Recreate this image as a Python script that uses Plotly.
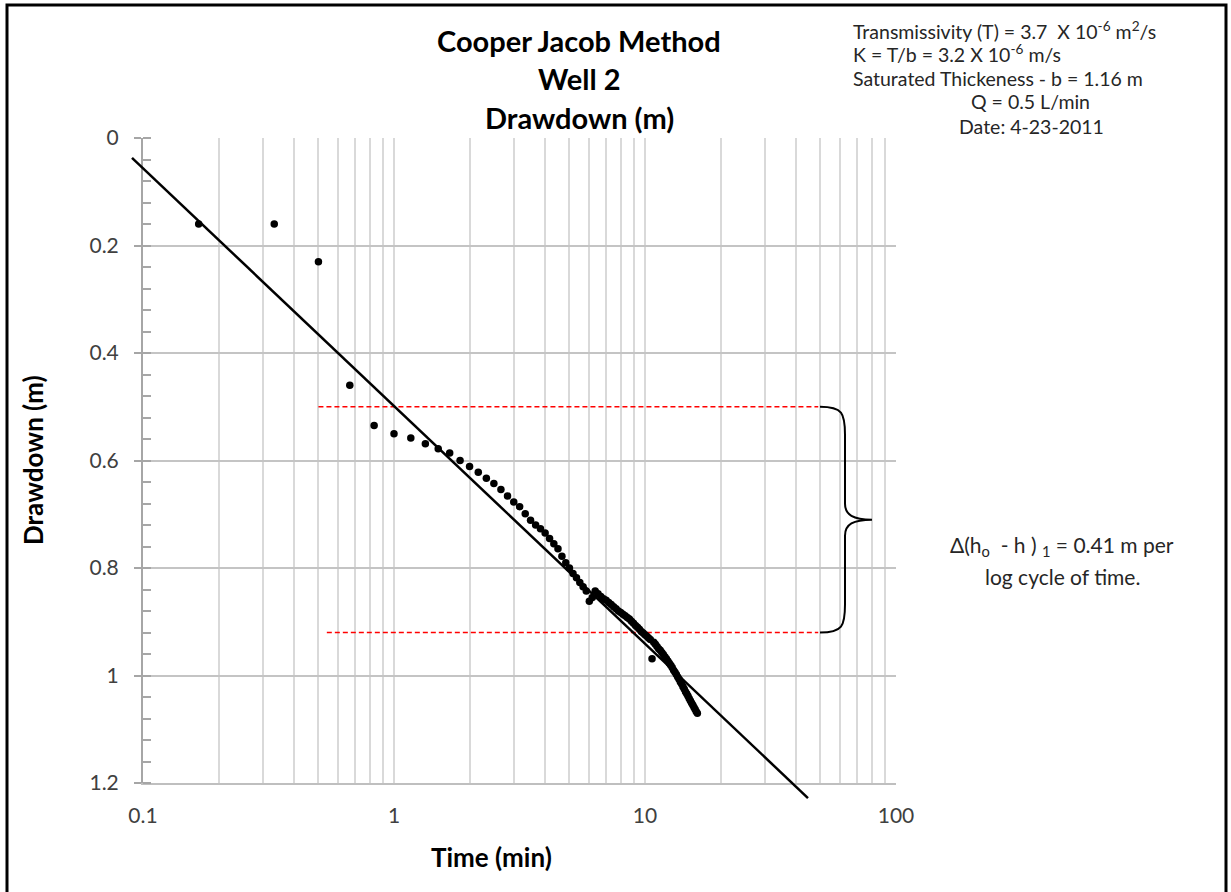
import math
import plotly.graph_objects as go

# Pumping test, Well 2: elapsed time (s) and drawdown (m)
time_s = [10, 20, 30, 40, 50, 60, 70, 80, 90, 100,
          110, 120, 130, 140, 150, 160, 170, 180, 190, 200,
          210, 220, 230, 240, 250, 260, 270, 280, 290, 300,
          310, 320, 330, 340, 350, 360, 370, 380, 390, 400,
          410, 420, 430, 440, 450, 460, 470, 480, 490, 500,
          510, 520, 530, 540, 550, 560, 570, 580, 590, 600,
          610, 620, 630, 640, 650, 660, 670, 680, 690, 700,
          710, 720, 730, 740, 750, 760, 770, 780, 790, 800,
          810, 820, 830, 840, 850, 860, 870, 880, 890, 900,
          910, 920, 930, 940, 950, 960, 970]
drawdown_m = [0.160, 0.160, 0.230, 0.460, 0.535, 0.550, 0.558, 0.569, 0.578, 0.586,
              0.600, 0.611, 0.622, 0.633, 0.643, 0.654, 0.666, 0.677, 0.686, 0.699,
              0.711, 0.720, 0.727, 0.735, 0.745, 0.755, 0.764, 0.778, 0.790, 0.800,
              0.810, 0.818, 0.827, 0.835, 0.843, 0.862, 0.855, 0.843, 0.848, 0.853,
              0.857, 0.860, 0.864, 0.868, 0.872, 0.876, 0.880, 0.883, 0.886, 0.889,
              0.892, 0.895, 0.899, 0.903, 0.907, 0.910, 0.914, 0.918, 0.921, 0.924,
              0.927, 0.930, 0.933, 0.969, 0.938, 0.942, 0.946, 0.950, 0.953, 0.957,
              0.961, 0.965, 0.969, 0.973, 0.977, 0.981, 0.985, 0.990, 0.994, 0.998,
              1.003, 1.007, 1.012, 1.016, 1.021, 1.025, 1.030, 1.034, 1.038, 1.043,
              1.047, 1.051, 1.055, 1.059, 1.063, 1.067, 1.070]
time_min = [s / 60 for s in time_s]

# Straight-line (Cooper-Jacob) fit, end points
fit_t = [0.0904, 44.6]
fit_d = [0.037, 1.228]

cycle_d = [0.50, 0.92]
cycle_t_start = [0.50, 0.54]
cycle_t_end = [49.0, 49.0]

x_ticks = [0.1, 1, 10, 100]
x_tick_text = ["0.1", "1", "10", "100"]
y_ticks = [0, 0.2, 0.4, 0.6, 0.8, 1.0, 1.2]
y_tick_text = ["0", "0.2", "0.4", "0.6", "0.8", "1", "1.2"]
x_range = [0.1, 100]
y_range = [1.2, 0]

FIG_W, FIG_H = 1231, 892
L, T, R, B = 143, 138, 335, 109
PW, PH = FIG_W - L - R, FIG_H - T - B
FONT = "Lato"
TXT = "#404040"


def xfrac(t):
    lo, hi = math.log10(x_range[0]), math.log10(x_range[1])
    return (math.log10(t) - lo) / (hi - lo)


def yfrac(d):
    return (d - y_range[0]) / (y_range[1] - y_range[0])


def px(x, y):
    return (x - L) / PW, 1 - (y - T) / PH


fig = go.Figure()

for d, t0, t1 in zip(cycle_d, cycle_t_start, cycle_t_end):
    fig.add_trace(go.Scatter(
        x=[t0, t1], y=[d, d], mode="lines",
        line=dict(color="#ff0000", width=1.5, dash="5px,3px"),
        hoverinfo="skip", showlegend=False))

fig.add_trace(go.Scatter(
    x=time_min, y=drawdown_m, mode="markers",
    marker=dict(color="black", size=7.5),
    showlegend=False, cliponaxis=False))

# fitted line (allowed to run past the plot frame)
fig.add_shape(type="line", xref="x domain", yref="y domain",
              x0=xfrac(fit_t[0]), y0=yfrac(fit_d[0]),
              x1=xfrac(fit_t[1]), y1=yfrac(fit_d[1]),
              line=dict(color="black", width=2.5))

# curly brace spanning one log cycle
yt = yfrac(cycle_d[0])
yb = yfrac(cycle_d[1])
ym = (yt + yb) / 2
x0, _ = px(820, 0)
x1, _ = px(845, 0)
x2, _ = px(872, 0)
dy = 28 / PH
dc = 16 / PH
path = (f"M {x0},{yt} C {x0 + (x1 - x0) * 0.9},{yt} {x1},{yt - dc * 0.4} {x1},{yt - dy} "
        f"L {x1},{ym + dc} C {x1},{ym + 0.3 * dc} {x1 + (x2 - x1) * 0.3},{ym} {x2},{ym} "
        f"C {x1 + (x2 - x1) * 0.3},{ym} {x1},{ym - 0.3 * dc} {x1},{ym - dc} "
        f"L {x1},{yb + dy} C {x1},{yb + dc * 0.4} {x0 + (x1 - x0) * 0.9},{yb} {x0},{yb}")
fig.add_shape(type="path", xref="paper", yref="paper", path=path,
              line=dict(color="black", width=2))

# frame around the whole chart
fx0, fy0 = px(7, 5)
fx1, fy1 = px(1226, 900)
fig.add_shape(type="rect", xref="paper", yref="paper",
              x0=fx0, y0=fy0, x1=fx1, y1=fy1,
              line=dict(color="black", width=3), layer="above")

ann = []


def note(x, y, text, size, bold=False, xanchor="center", angle=0):
    ax, ay = px(x, y)
    ann.append(dict(x=ax, y=ay, xref="paper", yref="paper", text=text,
                    showarrow=False, xanchor=xanchor, yanchor="middle",
                    textangle=angle,
                    font=dict(family=FONT, size=size, color="black" if bold else "#262626",
                              weight="bold" if bold else "normal")))


note(579, 40, "Cooper Jacob Method", 29, bold=True)
note(579, 78, "Well 2", 29, bold=True)
note(579, 117, "Drawdown (m)", 29, bold=True)

INFO = 19.5
note(851, 30, "Transmissivity (T) = 3.7  X 10<sup>-6</sup> m<sup>2</sup>/s", INFO, xanchor="left")
note(851, 54, "K = T/b = 3.2 X 10<sup>-6</sup> m/s", INFO, xanchor="left")
note(851, 78, "Saturated Thickeness - b = 1.16 m", INFO, xanchor="left")
note(1030, 102, "Q = 0.5 L/min", INFO)
note(1031, 126, "Date: 4-23-2011", INFO)

note(1062, 546, "Δ(h<sub>o</sub>  - h ) <sub>1</sub> = 0.41 m per", 21)
note(1062, 576, "log cycle of time.", 21)

note(491, 857, "Time (min)", 26, bold=True)
note(33, 460, "Drawdown (m)", 26, bold=True, angle=-90)

fig.update_layout(
    width=FIG_W, height=FIG_H,
    margin=dict(l=L, r=R, t=T, b=B, pad=0),
    paper_bgcolor="white", plot_bgcolor="white",
    annotations=ann,
    font=dict(family=FONT, color=TXT),
    xaxis=dict(
        type="log", range=[math.log10(x_range[0]), math.log10(x_range[1])],
        tickvals=x_ticks, ticktext=x_tick_text,
        tickfont=dict(size=21, color=TXT, family=FONT),
        showgrid=True, gridcolor="#d9d9d9", gridwidth=2,
        showline=True, linecolor="#bfbfbf", linewidth=2,
        ticks="", ticklen=0, ticklabelstandoff=13,
        minor=dict(dtick="D1", showgrid=True, gridcolor="#d9d9d9", gridwidth=2, ticks=""),
        zeroline=False,
    ),
    yaxis=dict(
        range=y_range, tickvals=y_ticks, ticktext=y_tick_text,
        tickfont=dict(size=21, color=TXT, family=FONT),
        showgrid=True, gridcolor="#c4c4c4", gridwidth=2,
        showline=True, linecolor="#a6a6a6", linewidth=2,
        ticks="outside", ticklen=7, tickcolor="#a6a6a6", tickwidth=2,
        minor=dict(dtick=0.04, ticks="inside", ticklen=8, tickcolor="#a6a6a6",
                   tickwidth=2, showgrid=False),
        zeroline=False, ticklabelstandoff=11,
    ),
)

fig.write_html("out.html")
